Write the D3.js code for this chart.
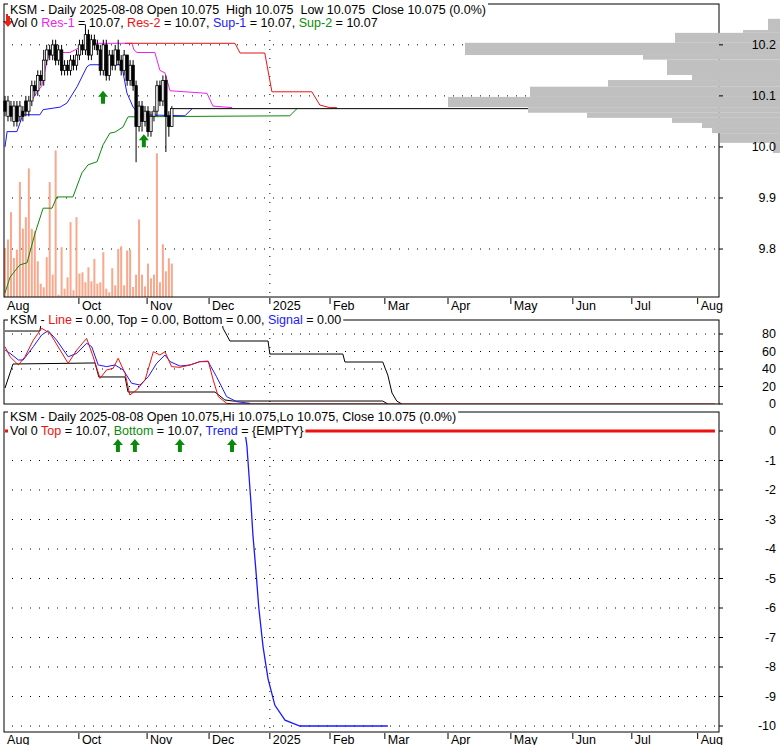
<!DOCTYPE html>
<html><head><meta charset="utf-8">
<script src="https://cdn.jsdelivr.net/npm/d3@7"></script>
<style>body{margin:0;background:#fff}svg{display:block;font-family:"Liberation Sans",Arial,sans-serif;font-size:12.5px}text{white-space:pre}</style>
</head><body><svg id="c" width="780" height="745"></svg>
<script>
// ---------- DATA ----------
const opens=[10.09,10.06,10.08,10.05,10.08,10.06,10.07,10.09,10.07,10.09,10.12,10.11,10.14,10.13,10.17,10.19,10.18,10.20,10.17,10.19,10.15,10.16,10.15,10.17,10.16,10.18,10.20,10.19,10.22,10.18,10.21,10.20,10.19,10.15,10.20,10.14,10.18,10.16,10.19,10.17,10.15,10.18,10.13,10.16,10.12,10.04,10.08,10.05,10.07,10.03,10.06,10.07,10.12,10.09,10.13,10.06,10.04];
const closes=[10.07,10.09,10.06,10.08,10.05,10.08,10.06,10.07,10.09,10.12,10.11,10.14,10.13,10.17,10.19,10.18,10.20,10.17,10.19,10.15,10.16,10.15,10.17,10.16,10.18,10.20,10.19,10.22,10.18,10.21,10.20,10.19,10.15,10.20,10.14,10.18,10.16,10.19,10.17,10.15,10.18,10.13,10.16,10.12,10.04,10.08,10.05,10.07,10.03,10.06,10.07,10.12,10.09,10.13,10.06,10.04,10.075];
const highs=[10.10,10.10,10.09,10.09,10.09,10.09,10.08,10.10,10.10,10.13,10.13,10.15,10.15,10.19,10.20,10.20,10.21,10.21,10.20,10.20,10.17,10.17,10.18,10.18,10.19,10.21,10.21,10.24,10.23,10.22,10.22,10.21,10.20,10.21,10.21,10.19,10.19,10.20,10.21,10.18,10.19,10.18,10.17,10.17,10.13,10.09,10.09,10.08,10.08,10.07,10.08,10.13,10.13,10.14,10.14,10.07,10.08];
const lows=[10.06,10.05,10.05,10.04,10.04,10.05,10.05,10.06,10.06,10.08,10.10,10.10,10.12,10.12,10.16,10.17,10.17,10.16,10.16,10.14,10.14,10.14,10.14,10.15,10.15,10.17,10.18,10.18,10.17,10.17,10.19,10.18,10.14,10.14,10.13,10.13,10.15,10.15,10.16,10.14,10.14,10.12,10.12,10.11,9.97,10.03,10.03,10.04,10.02,10.02,10.05,10.06,10.08,10.08,9.99,10.02,10.04];
const volumes=[147,172,254,117,142,344,205,239,385,204,197,107,40,29,119,344,67,439,7,149,25,59,224,20,239,70,74,44,89,47,114,40,44,134,25,14,86,35,144,152,35,139,142,30,67,232,67,32,100,56,67,430,44,158,77,116,100];
const tickLabels=["Aug","Oct","Nov","Dec","2025","Feb","Mar","Apr","May","Jun","Jul","Aug"];
const tickIdx=[-0.3,24.8,47.7,68.5,88.9,109.1,127.5,148.7,169.8,190.6,210.4,232.5];
const yearIdx=88.9;
const priceTicks=[10.2,10.1,10.0,9.9,9.8];
const res1=[[9.1,10.092],[10.7,10.107],[12.4,10.12],[14.1,10.17],[15.1,10.183],[16.1,10.185],[21.8,10.185],[25.2,10.195],[27.5,10.203],[42.6,10.203],[43.3,10.19],[44.3,10.185],[50.3,10.185],[52,10.15],[53.7,10.145],[55.4,10.11],[67.8,10.105],[69.8,10.08],[76.2,10.077]];
const res2=[[40.3,10.203],[77.2,10.203],[78.9,10.184],[87.2,10.184],[89.6,10.108],[103,10.108],[105.7,10.082],[109,10.077],[111.4,10.077]];
const sup1=[[0,10.0],[0.7,10.03],[4,10.03],[6,10.063],[11.7,10.063],[12.8,10.073],[18.5,10.078],[20.8,10.086],[24.2,10.118],[27.5,10.157],[28.5,10.161],[38.6,10.161],[39.6,10.147],[40.9,10.106],[43,10.078],[45.3,10.063],[60.4,10.061],[62.8,10.075]];
const sup2=[[0,9.714],[1.7,9.745],[5,9.769],[7.4,9.773],[10.1,9.831],[12.8,9.88],[15.8,9.88],[17.4,9.902],[22.8,9.902],[25.8,9.949],[27.9,9.965],[30.9,9.971],[32.9,10.004],[35.2,10.027],[36.9,10.029],[39.6,10.039],[41.3,10.059],[95.6,10.061],[98,10.075]];
const lastLine=[[55.4,10.075],[238.3,10.075]];
const profLo=[10.229,10.2235,10.204,10.180,10.171,10.141,10.131,10.118,10.098,10.078,10.067,10.057,10.047,10.037,10.027,10.008,9.988];
const profHi=[10.251,10.229,10.2235,10.204,10.180,10.171,10.141,10.131,10.118,10.098,10.078,10.067,10.057,10.047,10.037,10.027,10.008];
const profVol=[12,37,105,315,137,113,88,172,250,332,252,193,108,78,68,60,7];
const oscTicks=[80,60,40,20,0];
const oscLine=[[0,65.5],[1.7,54],[4.5,44.6],[6.7,54],[9.5,73],[12.3,86.5],[15.1,80.8],[18.5,61.7],[21.2,46.5],[24.1,61.7],[27.4,75],[29.6,54],[31.9,29.3],[34.1,38.9],[36.3,40.8],[38,52.2],[40.3,35],[41.9,10.3],[44.2,16],[47,27.4],[49.8,59.8],[52,56],[53.7,59.8],[55.9,42.7],[58.7,41.9],[62.1,44.6],[65.4,48.4],[68.2,49.1],[69.9,27.4],[71.6,8.4],[74.4,0.8],[76.6,0],[238.3,0]];
const oscSignal=[[0,61.7],[1.7,57.9],[4.5,50.3],[6.1,50.3],[9.5,65.5],[12.3,78.9],[14.5,83.8],[17.3,73.1],[21.2,54],[24.1,57.9],[27.4,69.4],[29.1,65.5],[31.3,44.6],[34.1,42.7],[36.9,44.6],[39.7,38.9],[42.5,23.7],[45.3,21.7],[48.1,31.2],[50.9,46.5],[53.7,56],[55.4,48.4],[58.7,43.4],[62.1,44.6],[65.4,48.4],[68.2,48.4],[71,31.2],[74.4,8.4],[77.8,2.6],[82.2,0.8]];
const oscTop=[[0,83.4],[11.7,83.4],[12.5,100],[72.5,100],[73.2,86.5],[75.5,72],[88.3,72],[88.9,57.1],[113.4,57.1],[114.1,48],[126.8,48],[128.5,33],[129.9,12.6],[131.5,3.4],[133.2,0]];
const oscBottom=[[0,18.3],[2.7,45.7],[30.2,46.9],[31.5,30.9],[40.3,30.9],[41.3,13.7],[70.5,13.7],[73.8,4.6],[76.5,3.4],[126.8,3.4],[128.5,0]];
const trendTicks=[0,-1,-2,-3,-4,-5,-6,-7,-8,-9,-10];
const trendLine=[[80.5,0],[81.2,-0.5],[81.9,-1.5],[82.6,-2.5],[83.2,-3.5],[84.2,-4.7],[85.2,-6],[86.6,-7.3],[88.3,-8.4],[90.6,-9.3],[94,-9.8],[99,-10],[128.5,-10]];
const topLine=[[0,0],[238.3,0]];
const upArrowsBottom=[37.9,43.6,58.7,76.2];
const upArrowsMain=[[32.9,10.11],[46.6,10.025]];
const downArrowsMain=[[1,10.235]];

// ---------- DRAW ----------
const svg=d3.select("#c");
const L=4,R=719;
const x=d3.scaleLinear().domain([0,240]).range([5,720]);
const yP=d3.scaleLinear().domain([9.706,10.28]).range([297,4]);
const yV=d3.scaleLinear().domain([0,440]).range([297,150]);
const yO=d3.scaleLinear().domain([0,96]).range([404,320]);
const yT=d3.scaleLinear().domain([-10,0]).range([726,431]);
const xProf=d3.scaleLinear().domain([0,340]).range([780,440]);

function dotted(g,y0,y1,vals,ys){
  vals.forEach(v=>g.append("line").attr("x1",L+8).attr("x2",R).attr("y1",ys(v)).attr("y2",ys(v))
   .attr("stroke","#000").attr("stroke-dasharray","1,8"));
  g.append("line").attr("x1",x(yearIdx)).attr("x2",x(yearIdx)).attr("y1",y0).attr("y2",y1).attr("stroke","#000").attr("stroke-dasharray","1,8");
}
function rightLabels(vals,ys,fmt){
  vals.forEach(v=>{
    svg.append("line").attr("x1",R).attr("x2",R+4).attr("y1",ys(v)).attr("y2",ys(v)).attr("stroke","#000");
    svg.append("text").attr("x",776).attr("y",ys(v)+4).attr("text-anchor","end").text(fmt(v));});
}
function lineOf(pts,ys,color,w,clip){
  svg.append("path").datum(pts).attr("d",d3.line().x(d=>x(d[0])).y(d=>ys(d[1])))
   .attr("fill","none").attr("stroke",color).attr("stroke-width",w||1).attr("clip-path",clip||null);
}
function title(yb,parts,h){
  const bg=svg.append("rect");
  const t=svg.append("text").attr("x",10).attr("y",yb);
  parts.forEach(p=>t.append("tspan").attr("fill",p[1]).text(p[0]));
  const w=t.node().getComputedTextLength();
  bg.attr("x",8).attr("y",yb-11).attr("width",w+4).attr("height",h||13).attr("fill","#fff");
}
function upArrow(cx,cy){svg.append("path").attr("d",`M${cx},${cy} l-5,6 h3 v7 h4 v-7 h3 z`).attr("fill","#0a8a0a");}
function downArrow(cx,cy){svg.append("path").attr("d",`M${cx},${cy} l-5,-6 h3 v-7 h4 v7 h3 z`).attr("fill","#e8221a");}

const defs=svg.append("defs");
[["cm",4,297],["co",320,404],["ct",412,732]].forEach(c=>defs.append("clipPath").attr("id",c[0]).append("rect").attr("x",L).attr("y",c[1]).attr("width",R-L).attr("height",c[2]-c[1]));

// main panel
const gm=svg.append("g");
dotted(gm,4,297,priceTicks,yP);
svg.selectAll(".vol").data(volumes).join("rect").attr("x",(d,i)=>x(i)-1).attr("width",2)
  .attr("y",d=>yV(d)).attr("height",d=>297-yV(d)).attr("fill","#f9a88c");
lineOf(sup2,yP,"#0a8a0a",1,"url(#cm)");
lineOf(sup1,yP,"#1a1aff");
lineOf(res1,yP,"#ee22ee");
lineOf(res2,yP,"#ee1111");
lineOf(lastLine,yP,"#000");
closes.forEach((c,i)=>{
  const o=opens[i];
  svg.append("line").attr("x1",x(i)).attr("x2",x(i)).attr("y1",yP(highs[i])).attr("y2",yP(lows[i])).attr("stroke","#000");
  svg.append("rect").attr("x",x(i)-1.2).attr("width",2.4).attr("y",yP(Math.max(o,c))).attr("height",Math.max(1,Math.abs(yP(o)-yP(c))))
   .attr("fill",c>=o?"#fff":"#000").attr("stroke","#000").attr("stroke-width",0.8);
});
upArrowsMain.forEach(a=>upArrow(x(a[0]),yP(a[1])));
downArrowsMain.forEach(a=>downArrow(x(a[0]),yP(a[1])));
svg.append("rect").attr("x",L).attr("y",4).attr("width",R-L).attr("height",293).attr("fill","none").attr("stroke","#000");
profVol.forEach((v,i)=>svg.append("rect").attr("x",xProf(v)).attr("width",780-xProf(v))
  .attr("y",yP(profHi[i])).attr("height",yP(profLo[i])-yP(profHi[i])).attr("fill","#c0c0c0"));
rightLabels(priceTicks,yP,d=>d.toFixed(1));
title(14,[["KSM - Daily 2025-08-08 Open 10.075  High 10.075  Low 10.075  Close 10.075 (0.0%)","#000"]]);
svg.append("text").attr("x",10).attr("y",27).selectAll("tspan").data([["Vol 0 ","#000"],["Res-1","#ee22ee"],[" = 10.07, ","#000"],["Res-2","#ee1111"],[" = 10.07, ","#000"],["Sup-1","#1a1aff"],[" = 10.07, ","#000"],["Sup-2","#0a8a0a"],[" = 10.07","#000"]]).join("tspan").attr("fill",d=>d[1]).text(d=>d[0]);

function timeAxis(yb,base){
  tickLabels.forEach((t,i)=>{
    const px=x(tickIdx[i]);
    if(i>0) svg.append("line").attr("x1",px).attr("x2",px).attr("y1",yb+1).attr("y2",yb+7).attr("stroke","#000");
    svg.append("text").attr("x",px+3).attr("y",base).text(t);
  });
}
timeAxis(297,310);

// oscillator panel
const go=svg.append("g");
dotted(go,320,404,[80,60,40,20],yO);
lineOf(oscTop,yO,"#000",1,"url(#co)");
lineOf(oscBottom,yO,"#000",1,"url(#co)");
lineOf(oscSignal,yO,"#1a1aff",1,"url(#co)");
lineOf(oscLine,yO,"#ee1111",1,"url(#co)");
svg.append("rect").attr("x",L).attr("y",320).attr("width",R-L).attr("height",84).attr("fill","none").attr("stroke","#000");
rightLabels(oscTicks,yO,d=>d);
title(324,[["KSM - ","#000"],["Line","#ee1111"],[" = 0.00, Top = 0.00, Bottom = 0.00, ","#000"],["Signal","#1a1aff"],[" = 0.00","#000"]]);

// trend panel
const gt=svg.append("g");
dotted(gt,412,732,trendTicks.slice(1),yT);
lineOf(topLine,yT,"#ee1111",3);
lineOf(trendLine,yT,"#1a1aff",1.3);
upArrowsBottom.forEach(a=>upArrow(x(a),439));
svg.append("rect").attr("x",L).attr("y",412).attr("width",R-L).attr("height",320).attr("fill","none").attr("stroke","#000");
rightLabels(trendTicks,yT,d=>d<0?"-"+(-d):String(d));
title(421,[["KSM - Daily 2025-08-08 Open 10.075,Hi 10.075,Lo 10.075, Close 10.075 (0.0%)","#000"]]);
title(435,[["Vol 0 ","#000"],["Top","#ee1111"],[" = 10.07, ","#000"],["Bottom","#0a8a0a"],[" = 10.07, ","#000"],["Trend","#1a1aff"],[" = {EMPTY}","#000"]]);
timeAxis(732,744);
</script></body></html>
